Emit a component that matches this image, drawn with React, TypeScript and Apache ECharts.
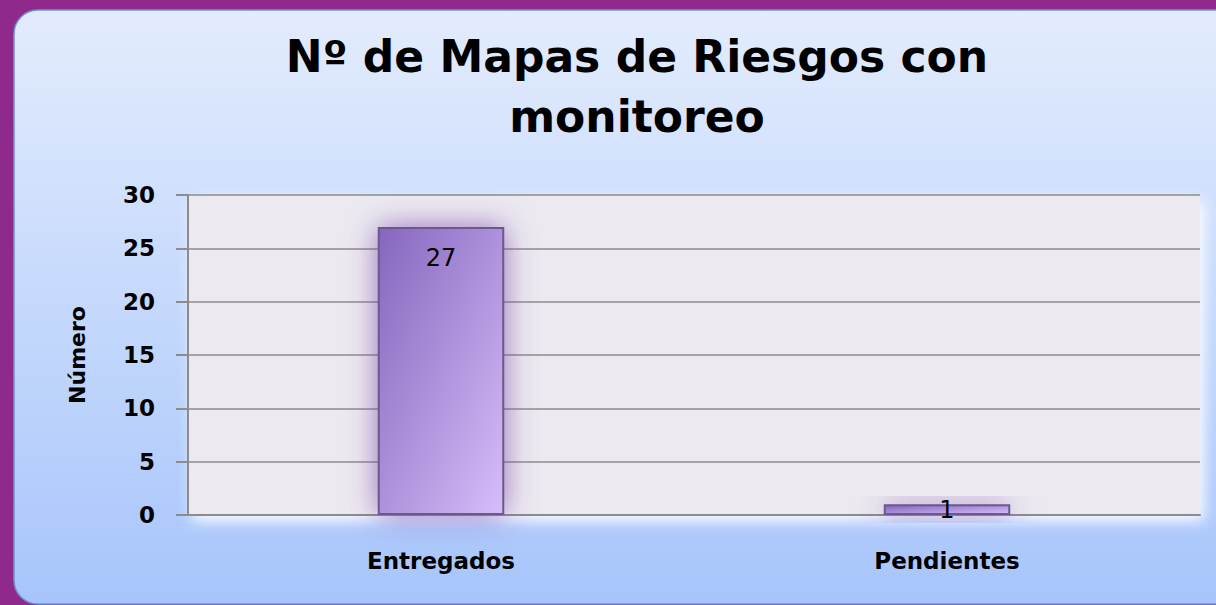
import React, { useEffect, useRef } from "react";
import * as echarts from "echarts";

const titleLines = ["Nº de Mapas de Riesgos con", "monitoreo"];
const categories = ["Entregados", "Pendientes"];
const values = [27, 1];
const yTicks = { min: 0, max: 30, interval: 5 };
const yName = "Número";

export default function App() {
  const ref = useRef<HTMLDivElement>(null);
  useEffect(() => {
    if (!ref.current) return;
    const chart = echarts.init(ref.current, null, { renderer: "svg" });
    const font = "'DejaVu Sans', 'Open Sans', sans-serif";
    chart.setOption({
      animation: false,
      backgroundColor: "#8F2A8C",
      title: {
        text: titleLines.join("\n"),
        left: 637,
        textAlign: "center",
        top: 26,
        padding: 0,
        textStyle: {
          fontFamily: font,
          fontSize: 44,
          fontWeight: "bold",
          color: "#000",
          lineHeight: 60,
        },
      },
      graphic: [
        {
          type: "rect",
          z: -10,
          silent: true,
          shape: { x: 14, y: 10, width: 1240, height: 594, r: 24 },
          style: {
            fill: new echarts.graphic.LinearGradient(0, 0, 0, 1, [
              { offset: 0, color: "#E3ECFD" },
              { offset: 1, color: "#A7C5FB" },
            ]),
            stroke: "#6F95CF",
            lineWidth: 1.5,
          },
        },
        {
          type: "rect",
          z: -9,
          silent: true,
          shape: { x: 188, y: 195, width: 1012, height: 320 },
          style: {
            fill: "#ECEAF0",
            shadowBlur: 14,
            shadowColor: "rgba(255,255,255,0.95)",
            shadowOffsetY: 6,
            shadowOffsetX: 4,
          },
        },
      ],
      grid: { left: 188, right: 16, top: 195, bottom: 90, containLabel: false },
      xAxis: {
        type: "category",
        data: categories,
        axisLine: { show: true, lineStyle: { color: "#8C8C8C", width: 2 } },
        axisTick: { show: false },
        axisLabel: {
          fontFamily: font,
          fontSize: 23,
          fontWeight: "bold",
          color: "#000",
          margin: 34,
        },
      },
      yAxis: {
        type: "value",
        min: yTicks.min,
        max: yTicks.max,
        interval: yTicks.interval,
        name: yName,
        nameLocation: "middle",
        nameGap: 100,
        nameTextStyle: {
          fontFamily: font,
          fontSize: 22,
          fontWeight: "bold",
          color: "#000",
        },
        axisLine: { show: true, lineStyle: { color: "#8C8C8C", width: 2 } },
        axisTick: { show: true, length: 12, lineStyle: { color: "#8C8C8C", width: 2 } },
        splitLine: { show: true, lineStyle: { color: "#8C8C8C", width: 1.5 } },
        axisLabel: {
          fontFamily: font,
          fontSize: 23,
          fontWeight: "bold",
          color: "#000",
          margin: 33,
        },
      },
      series: [
        {
          type: "bar",
          data: values.map((v) => ({
            value: v,
            label: { position: v < 3 ? "inside" : "insideTop" },
          })),
          barWidth: "25%",
          itemStyle: {
            color: new echarts.graphic.LinearGradient(0, 0, 1, 1, [
              { offset: 0, color: "#8666BE" },
              { offset: 1, color: "#D6BDF9" },
            ]),
            borderColor: "#6A5A8A",
            borderWidth: 2,
            shadowBlur: 30,
            shadowColor: "rgba(120,60,170,0.7)",
          },
          label: {
            show: true,
            position: "insideTop",
            distance: 19,
            fontFamily: font,
            fontSize: 24,
            color: "#000",
          },
        },
      ],
    });
    return () => chart.dispose();
  }, []);
  return (
    <div
      ref={ref}
      style={{ position: "fixed", left: 0, top: 0, width: 1216, height: 605 }}
    />
  );
}
